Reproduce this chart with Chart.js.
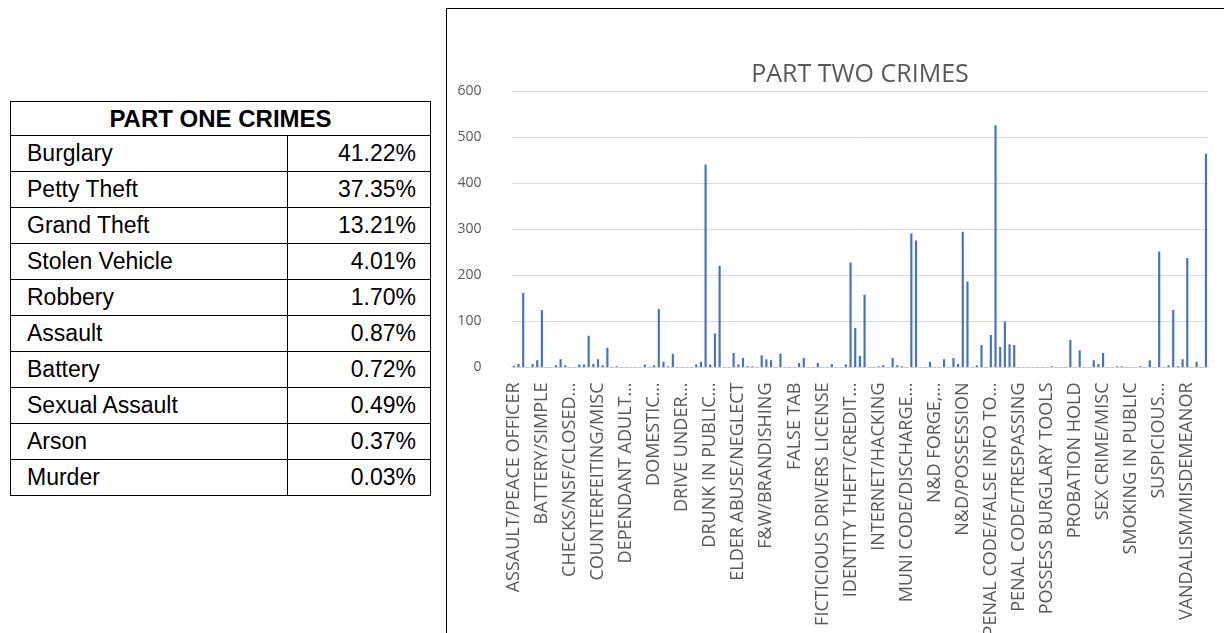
<!DOCTYPE html>
<html>
<head>
<meta charset="utf-8">
<title>Crimes</title>
<script src="https://cdn.jsdelivr.net/npm/chart.js@4/dist/chart.umd.min.js"></script>
<style>
  html, body { margin: 0; padding: 0; background: #fff; width: 1224px; height: 633px; overflow: hidden; }
  #part-one {
    position: absolute; left: 10px; top: 101px; width: 421px;
    border-collapse: collapse;
    font-family: Arial, "Liberation Sans", sans-serif; font-size: 23px; color: #000;
  }
  #part-one th, #part-one td { border: 1px solid #000; height: 36px; padding: 0; box-sizing: border-box; }
  #part-one th { height: 34px; font-size: 24px; font-weight: bold; text-align: center; }
  #part-one td.name { width: 277px; padding-left: 16px; text-align: left; }
  #part-one td.share { padding-right: 14px; text-align: right; }
  #chart-box { position: absolute; left: 446px; top: 8px; width: 826px; height: 640px; border: 1px solid #000; }
  #chart-box canvas { position: absolute; left: 0; top: 0; }
</style>
</head>
<body>
<table id="part-one">
  <thead><tr><th colspan="2">PART ONE CRIMES</th></tr></thead>
  <tbody id="part-one-body"></tbody>
</table>
<div id="chart-box"><canvas id="chart-part-two" width="826" height="640"></canvas></div>
<script>
const partOneCrimes = ["Burglary", "Petty Theft", "Grand Theft", "Stolen Vehicle", "Robbery",
  "Assault", "Battery", "Sexual Assault", "Arson", "Murder"];
const partOneShares = [41.22, 37.35, 13.21, 4.01, 1.70, 0.87, 0.72, 0.49, 0.37, 0.03];

// only every 6th category name is printed on the axis
const partTwoLabels = [
  "ASSAULT/PEACE OFFICER", "BATTERY/SIMPLE", "CHECKS/NSF/CLOSED…", "COUNTERFEITING/MISC",
  "DEPENDANT ADULT…", "DOMESTIC…", "DRIVE UNDER…", "DRUNK IN PUBLIC…",
  "ELDER ABUSE/NEGLECT", "F&W/BRANDISHING", "FALSE TAB", "FICTICIOUS DRIVERS LICENSE",
  "IDENTITY THEFT/CREDIT…", "INTERNET/HACKING", "MUNI CODE/DISCHARGE…", "N&D FORGE,…",
  "N&D/POSSESSION", "PENAL CODE/FALSE INFO TO…", "PENAL CODE/TRESPASSING", "POSSESS BURGLARY TOOLS",
  "PROBATION HOLD", "SEX CRIME/MISC", "SMOKING IN PUBLIC", "SUSPICIOUS…",
  "VANDALISM/MISDEMEANOR",
];
const labelEvery = 6;

const partTwoCounts = [
  3, 7, 161, 0, 7, 15, 124, 0, 0, 4,
  17, 4, 0, 0, 6, 6, 68, 7, 17, 4,
  42, 0, 2, 0, 0, 0, 0, 0, 6, 0,
  4, 126, 12, 2, 29, 0, 0, 0, 0, 6,
  12, 440, 6, 73, 220, 0, 0, 31, 6, 20,
  2, 2, 0, 26, 17, 15, 0, 29, 0, 0,
  0, 9, 20, 0, 0, 9, 0, 0, 7, 0,
  0, 6, 227, 85, 24, 157, 0, 0, 2, 4,
  0, 20, 4, 2, 0, 290, 275, 0, 0, 12,
  0, 0, 17, 0, 20, 7, 294, 186, 0, 4,
  48, 0, 70, 525, 44, 99, 50, 48, 0, 0,
  0, 0, 0, 0, 0, 2, 0, 0, 0, 59,
  0, 36, 0, 0, 15, 7, 31, 0, 0, 2,
  2, 0, 0, 0, 2, 0, 15, 0, 251, 0,
  4, 124, 2, 17, 237, 0, 12, 0, 463,
];

const yMax = 600;
const yStep = 100;

function renderTable() {
  document.getElementById("part-one-body").innerHTML = partOneCrimes
    .map((name, i) => `<tr><td class="name">${name}</td><td class="share">${partOneShares[i].toFixed(2)}%</td></tr>`)
    .join("");
}

function renderChart() {
  const categories = partTwoCounts.map((_, i) => (i % labelEvery === 0 ? partTwoLabels[i / labelEvery] : ""));
  const axisText = "#595959";

  new Chart(document.getElementById("chart-part-two"), {
    type: "bar",
    data: {
      labels: categories,
      datasets: [{ data: partTwoCounts, backgroundColor: "#4472C4", barThickness: 1.5 }],
    },
    options: {
      responsive: false,
      animation: false,
      layout: { padding: 0 },
      plugins: {
        legend: { display: false },
        tooltip: { enabled: false },
        title: {
          display: true,
          text: "PART TWO CRIMES",
          color: axisText,
          font: { family: "Open Sans", size: 25, weight: "normal" },
          padding: { top: 51, bottom: 1 },
        },
      },
      scales: {
        x: {
          grid: { display: false, drawTicks: false },
          border: { color: "#d9d9d9" },
          ticks: {
            autoSkip: false, minRotation: 90, maxRotation: 90, padding: 15,
            color: axisText, font: { family: "Open Sans", size: 18 },
          },
          afterFit: (s) => { s.height = 281.5; },
        },
        y: {
          min: 0,
          max: yMax,
          grid: { color: "#d9d9d9", drawTicks: false },
          border: { display: false },
          ticks: { stepSize: yStep, padding: 30, color: axisText, font: { family: "Open Sans", size: 14 } },
          afterFit: (s) => { s.width = 64.5; },
        },
        // empty right-hand margin, so the title stays centred on the whole chart box
        spacer: {
          position: "right",
          grid: { display: false },
          border: { display: false },
          ticks: { display: false },
          afterFit: (s) => { s.width = 64.7; },
        },
      },
    },
  });
}

renderTable();
renderChart();
</script>
</body>
</html>
